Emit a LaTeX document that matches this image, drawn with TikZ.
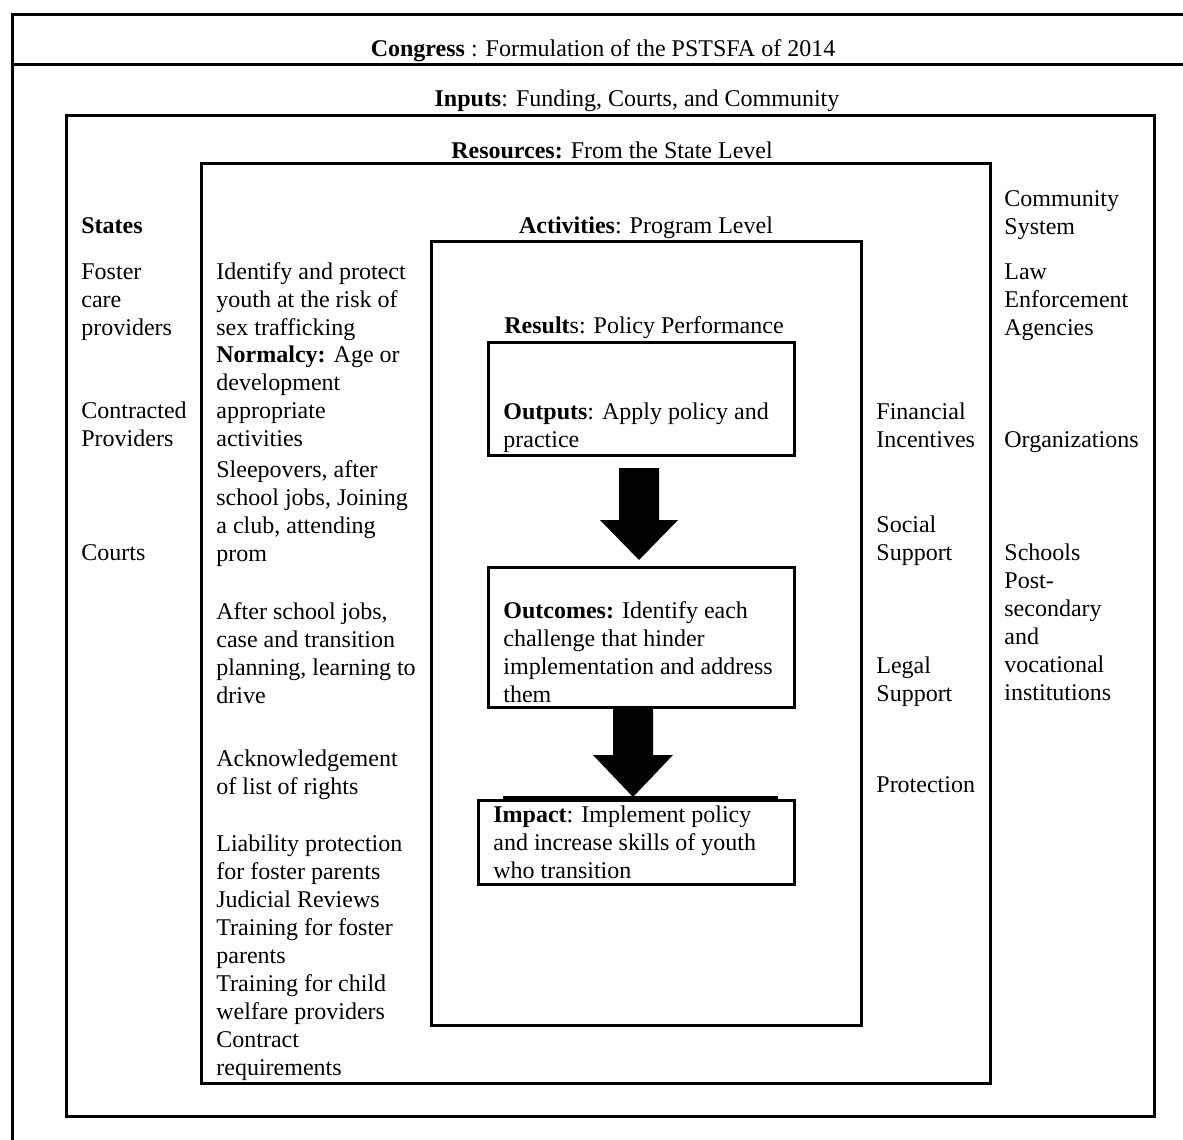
\documentclass[tikz,border=0pt]{standalone}
\usepackage{fontspec}
\setmainfont{Liberation Serif}
\newcommand\mlines[1]{\begin{tabular}[t]{@{}l@{}}#1\end{tabular}}
\begin{document}
\begin{tikzpicture}[x=0.5pt,y=-0.5pt,
  frame/.style={draw,line width=1.5pt},
  txt/.style={anchor=base west,inner sep=0pt,font=\fontsize{12}{14.05}\selectfont},
  ttl/.style={anchor=base,inner sep=0pt,font=\fontsize{12}{14.05}\selectfont},
  blockarrow/.style={fill=black,draw=none}]
\useasboundingbox[fill=white] (0,0) rectangle (1183,1140);

% outer frame (open at right and bottom)
\draw[frame] (1195,14) -- (12,14) -- (12,1150);
\draw[frame] (12,64) -- (1195,64);
\node[ttl] (congress) at (603,56) {\textbf{Congress} : Formulation of the PSTSFA of 2014};

% inputs
\node[ttl] (inputs) at (637,106) {\textbf{Inputs}: Funding, Courts, and Community};
\draw[frame] (66,115) rectangle (1154,1116);

% resources
\node[ttl] (resources) at (612,158) {\textbf{Resources:} From the State Level};
\draw[frame] (201,163) rectangle (990,1083);

% activities
\node[ttl] (activities) at (646,233) {\textbf{Activities}: Program Level};
\draw[frame] (431,241) rectangle (861,1025);

% results
\node[ttl] (results) at (644,333) {\textbf{Result}s: Policy Performance};
\draw[frame] (488,342) rectangle (794,455);
\node[txt] (outputs) at (503,419) {\mlines{\textbf{Outputs}: Apply policy and\\practice}};

\draw[frame] (488,567) rectangle (794,707);
\node[txt] (outcomes) at (503,618) {\mlines{\textbf{Outcomes:} Identify each\\challenge that hinder\\implementation and address\\them}};

\draw[frame] (478,800) rectangle (794,884);
\draw[frame] (503,797) -- (778,797);
\node[txt] (impact) at (493,822) {\mlines{\textbf{Impact}: Implement policy\\and increase skills of youth\\who transition}};

% block arrows
\fill[blockarrow] (619,468) -- (659,468) -- (659,520) -- (678,520) -- (639,560) -- (600,520) -- (619,520) -- cycle;
\fill[blockarrow] (613,707) -- (653,707) -- (653,755) -- (673,755) -- (633,797) -- (593,755) -- (613,755) -- cycle;

% states column
\node[txt] (states) at (81,233) {\textbf{States}};
\node[txt] (foster) at (81,279) {\mlines{Foster\\care\\providers}};
\node[txt] (contracted) at (81,418) {\mlines{Contracted\\Providers}};
\node[txt] (courts) at (81,560) {Courts};

% resources column
\node[txt] (identify) at (216,279) {\mlines{Identify and protect\\youth at the risk of\\sex trafficking}};
\node[txt] (normalcy) at (216,362) {\mlines{\textbf{Normalcy:} Age or\\development\\appropriate\\activities}};
\node[txt] (sleepovers) at (216,477) {\mlines{Sleepovers, after\\school jobs, Joining\\a club, attending\\prom}};
\node[txt] (afterschool) at (216,619) {\mlines{After school jobs,\\case and transition\\planning, learning to\\drive}};
\node[txt] (ack) at (216,766) {\mlines{Acknowledgement\\of list of rights}};
\node[txt] (liability) at (216,851) {\mlines{Liability protection\\for foster parents\\Judicial Reviews\\Training for foster\\parents\\Training for child\\welfare providers\\Contract\\requirements}};

% right inner column
\node[txt] (financial) at (876,419) {\mlines{Financial\\Incentives}};
\node[txt] (social) at (876,532) {\mlines{Social\\Support}};
\node[txt] (legal) at (876,673) {\mlines{Legal\\Support}};
\node[txt] (protection) at (876,792) {Protection};

% community column
\node[txt] (community) at (1004,206) {\mlines{Community\\System}};
\node[txt] (law) at (1004,279) {\mlines{Law\\Enforcement\\Agencies}};
\node[txt] (organizations) at (1004,447) {Organizations};
\node[txt] (schools) at (1004,560) {\mlines{Schools\\Post-\\secondary\\and\\vocational\\institutions}};
\end{tikzpicture}
\end{document}
